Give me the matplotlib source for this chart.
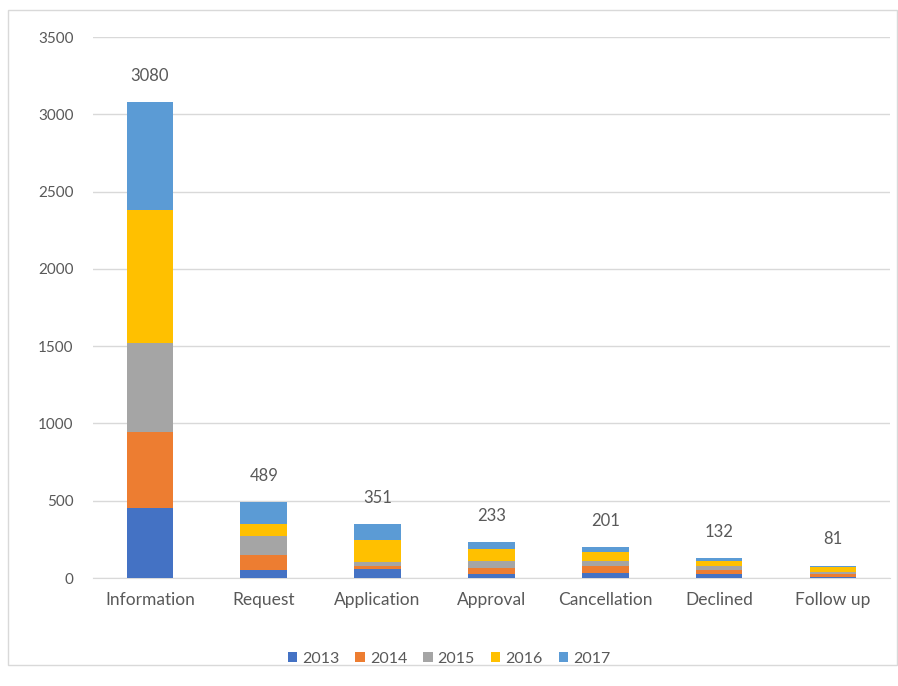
import matplotlib
matplotlib.use("Agg")
from matplotlib import pyplot as plt
from matplotlib.patches import Rectangle
import numpy as np

plt.rcParams['font.family'] = ['Lato', 'DejaVu Sans']

categories = ["Information", "Request", "Application", "Approval",
              "Cancellation", "Declined", "Follow up"]
years = ["2013", "2014", "2015", "2016", "2017"]

v2013 = [453, 50, 60, 25, 30, 25, 8]
v2014 = [491, 100, 20, 40, 45, 27, 20]
v2015 = [576, 120, 25, 45, 35, 25, 10]
v2016 = [860, 80, 140, 78, 56, 30, 35]
v2017 = [700, 139, 106, 45, 35, 25, 8]
totals = [3080, 489, 351, 233, 201, 132, 81]

colors = ["#4472C4", "#ED7D31", "#A5A5A5", "#FFC000", "#5B9BD5"]
text_color = "#595959"

fig = plt.figure(figsize=(8.98, 6.86), dpi=100)
ax = fig.add_axes([0.1036, 0.1574, 0.8874, 0.7886])

x = np.arange(len(categories))
bottom = np.zeros(len(categories))
for year, vals, c in zip(years, [v2013, v2014, v2015, v2016, v2017], colors):
    ax.bar(x, vals, width=0.41, bottom=bottom, color=c, label=year, zorder=3)
    bottom += np.array(vals)

for xi, t, top in zip(x, totals, bottom):
    ax.annotate(str(t), (xi, top), xytext=(0, 13), textcoords="offset points",
                ha="center", va="bottom", fontsize=12, color=text_color)

ax.set_xlim(-0.5, len(categories) - 0.5)
ax.set_ylim(0, 3500)
ax.set_yticks(range(0, 3501, 500))
ax.set_xticks(x)
ax.set_xticklabels(categories, fontsize=12.5, color=text_color)
ax.tick_params(axis="y", labelsize=11, colors=text_color, length=0, pad=14)
ax.tick_params(axis="x", length=0, pad=10)
ax.grid(axis="y", color="#D9D9D9", linewidth=1, zorder=0)
for s in ["top", "right", "left"]:
    ax.spines[s].set_visible(False)
ax.spines["bottom"].set_color("#D9D9D9")

fig.legend(loc="center", bbox_to_anchor=(0.5, 0.04), ncol=5, frameon=False,
           fontsize=11.5, handlelength=0.6, handleheight=0.6,
           handletextpad=0.3, columnspacing=1.0, labelcolor=text_color)

fig.patches.append(Rectangle((0.009, 0.03), 0.99, 0.955, transform=fig.transFigure,
                             fill=False, edgecolor="#D9D9D9", linewidth=1))

plt.savefig("out.png")
